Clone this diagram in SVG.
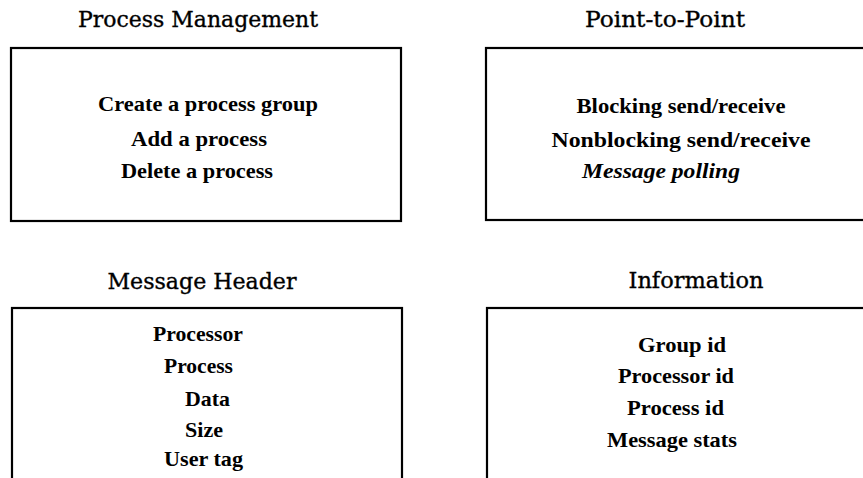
<svg xmlns="http://www.w3.org/2000/svg" width="863" height="478" viewBox="0 0 863 478">
<style>
.box{fill:none;stroke:#000;stroke-width:2.2}
.title{font-family:"DejaVu Serif","Liberation Serif",serif;font-size:21.5px;fill:#000;stroke:#000;stroke-width:0.35;text-anchor:middle}
.item{font-family:"Liberation Serif","DejaVu Serif",serif;font-size:21px;font-weight:bold;fill:#000;text-anchor:middle}
.ital{font-style:italic;text-anchor:start}
</style>
<rect width="863" height="478" fill="#fff"/>
<g id="process-management">
<text class="title" x="198" y="27" textLength="240" lengthAdjust="spacingAndGlyphs">Process Management</text>
<rect class="box" x="11" y="48" width="390" height="173"/>
<text class="item" x="208" y="111" textLength="220" lengthAdjust="spacingAndGlyphs">Create a process group</text>
<text class="item" x="199" y="146" textLength="136" lengthAdjust="spacingAndGlyphs">Add a process</text>
<text class="item" x="197" y="178" textLength="152" lengthAdjust="spacingAndGlyphs">Delete a process</text>
</g>
<g id="point-to-point">
<text class="title" x="665" y="27" textLength="160" lengthAdjust="spacingAndGlyphs">Point-to-Point</text>
<rect class="box" x="486" y="48" width="400" height="172"/>
<text class="item" x="681" y="113" textLength="209" lengthAdjust="spacingAndGlyphs">Blocking send/receive</text>
<text class="item" x="681" y="147" textLength="259" lengthAdjust="spacingAndGlyphs">Nonblocking send/receive</text>
<text class="item ital" x="582" y="178" textLength="158" lengthAdjust="spacingAndGlyphs">Message polling</text>
</g>
<g id="message-header">
<text class="title" x="202" y="289" textLength="189" lengthAdjust="spacingAndGlyphs">Message Header</text>
<rect class="box" x="12" y="308" width="390" height="200"/>
<text class="item" x="198" y="341" textLength="90" lengthAdjust="spacingAndGlyphs">Processor</text>
<text class="item" x="198.5" y="373" textLength="69" lengthAdjust="spacingAndGlyphs">Process</text>
<text class="item" x="207.5" y="406" textLength="45" lengthAdjust="spacingAndGlyphs">Data</text>
<text class="item" x="204" y="437" textLength="38" lengthAdjust="spacingAndGlyphs">Size</text>
<text class="item" x="203.5" y="466" textLength="79" lengthAdjust="spacingAndGlyphs">User tag</text>
</g>
<g id="information">
<text class="title" x="696" y="288" textLength="135" lengthAdjust="spacingAndGlyphs">Information</text>
<rect class="box" x="487" y="308" width="400" height="200"/>
<text class="item" x="682" y="352" textLength="88" lengthAdjust="spacingAndGlyphs">Group id</text>
<text class="item" x="676" y="383" textLength="116" lengthAdjust="spacingAndGlyphs">Processor id</text>
<text class="item" x="675.5" y="415" textLength="97" lengthAdjust="spacingAndGlyphs">Process id</text>
<text class="item" x="672" y="447" textLength="130" lengthAdjust="spacingAndGlyphs">Message stats</text>
</g>
<g id="connectors"/>
</svg>
